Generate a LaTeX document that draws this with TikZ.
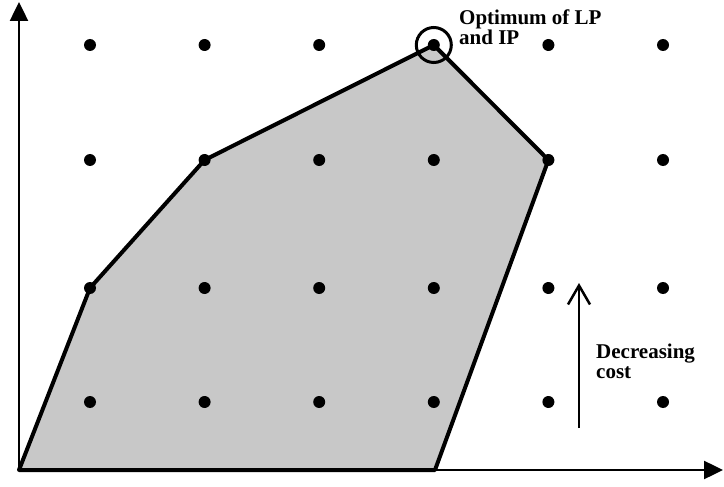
\documentclass[tikz,border=0pt]{standalone}
\usepackage{fontspec}
\setmainfont{Liberation Serif}
\usepackage{tikz}
\usetikzlibrary{arrows.meta,backgrounds}
\definecolor{feasgray}{RGB}{200,200,200}
\tikzset{
  lattice pt/.style={
    circle,
    fill=black,
    inner sep=0pt,
    minimum size=12pt
  }
}
\tikzset{
  axis/.style={
    -{Triangle[length=19pt,width=18pt]},
    draw=black,
    line width=2.5pt
  }
}
\tikzset{
  hull/.style={
    fill=feasgray,
    draw=black,
    line width=4pt,
    line join=round
  }
}
\tikzset{
  opt ring/.style={
    circle,
    draw=black,
    line width=3pt,
    minimum size=35pt,
    inner sep=0pt
  }
}
\tikzset{
  cost arrow/.style={
    -{Straight Barb[length=19pt,width=22pt]},
    draw=black,
    line width=2.5pt
  }
}
\tikzset{
  note/.style={
    align=left,
    inner sep=0pt,
    anchor=north west,
    font=\fontsize{21}{20}\selectfont\bfseries
  }
}

\begin{document}
\begin{tikzpicture}[x=1pt,y=-1pt]

    \useasboundingbox (0,0) rectangle (724,487);

    % ------------------------------------------------------------
    % Axes
    % ------------------------------------------------------------

    \coordinate (O) at (19,470);
    \coordinate (ytip) at (19,2);
    \coordinate (xtip) at (723,470);
    \coordinate (B) at (435,470);

    \draw[axis] (O) -- (ytip);
    \draw[axis] (O) -- (xtip);

    % ------------------------------------------------------------
    % Integer points
    % ------------------------------------------------------------

    \foreach \row/\y in {1/45,2/160,3/288,4/402}
      \foreach \col in {1,...,6}
        \node[lattice pt] (p-\col-\row) at ({90+114.6*(\col-1)},\y) {};

    % ------------------------------------------------------------
    % Feasible region
    % ------------------------------------------------------------

    \begin{scope}[on background layer]
      \filldraw[hull]
        (O)
        -- (p-1-3.center)
        -- (p-2-2.center)
        -- (p-4-1.center)
        -- (p-5-2.center)
        -- (B)
        -- cycle;
    \end{scope}

    % ------------------------------------------------------------
    % Optimum and cost direction
    % ------------------------------------------------------------

    \node[opt ring] (opt) at (p-4-1) {};

    \node[note] (optlabel) at (459,10)
    {
      Optimum of LP\\
      and IP
    };

    \coordinate (cost start) at (579,428);
    \coordinate (cost end) at (579,283);

    \draw[cost arrow] (cost start) -- (cost end);

    \node[note] (costlabel) at (596,344)
    {
      Decreasing\\
      cost
    };

\end{tikzpicture}
\end{document}
